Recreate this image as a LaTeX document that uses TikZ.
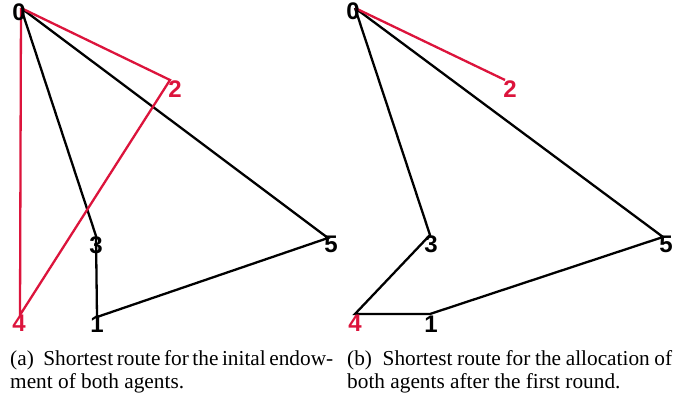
\documentclass[tikz,border=0pt]{standalone}
\usepackage{fontspec}
\setmainfont{Liberation Serif}
\newfontfamily\lblfont{Liberation Sans}
\definecolor{routered}{RGB}{220,20,60}
\begin{document}
\begin{tikzpicture}[x=1pt,y=-1pt,
  edgeline/.style={line width=2.3pt},
  blkline/.style={edgeline,draw=black},
  redline/.style={edgeline,draw=routered},
  lbl/.style={font=\lblfont\bfseries\fontsize{24}{24}\selectfont,inner sep=0pt,anchor=center},
  captext/.style={font=\fontsize{21.3}{25}\selectfont,inner sep=0pt,anchor=base west}]
\useasboundingbox (0,0) rectangle (694,403);
% left panel points
\coordinate (a0) at (21,8);
\coordinate (a2) at (170,80);
\coordinate (a3) at (96,236);
\coordinate (a5) at (328,238);
\coordinate (a4) at (20,315);
\coordinate (a1) at (97,317);
\draw[blkline] (a0) -- (a3) -- (a1) -- (a5) -- (a0);
\draw[redline] (a0) -- (a4) -- (a2) -- (a0);
\node[lbl] (la0) at (19,12) {0};
\node[lbl,text=routered] (la2) at (175,89) {2};
\node[lbl] (la3) at (96,245) {3};
\node[lbl] (la5) at (331,244) {5};
\node[lbl,text=routered] (la4) at (19,323) {4};
\node[lbl] (la1) at (97,324) {1};
% right panel points
\coordinate (b0) at (355,8);
\coordinate (b2) at (505,80);
\coordinate (b3) at (430,235);
\coordinate (b5) at (663,237);
\coordinate (b4) at (355,314);
\coordinate (b1) at (430,314);
\draw[blkline] (b0) -- (b3) -- (b4) -- (b1) -- (b5) -- (b0);
\draw[redline] (b0) -- (b2);
\node[lbl] (lb0) at (353,11) {0};
\node[lbl,text=routered] (lb2) at (510,89) {2};
\node[lbl] (lb3) at (431,244) {3};
\node[lbl] (lb5) at (666,244) {5};
\node[lbl,text=routered] (lb4) at (355,323) {4};
\node[lbl] (lb1) at (431,324) {1};
% captions
\node[captext] (ca1) at (10,366) {\makebox[323pt][s]{(a)\hspace{6pt} Shortest route for the inital endow-}};
\node[captext] (ca2) at (10,389) {ment of both agents.};
\node[captext] (cb1) at (347,366) {\makebox[325pt][s]{(b)\hspace{6pt} Shortest route for the allocation of}};
\node[captext] (cb2) at (347,389) {both agents after the first round.};
\end{tikzpicture}
\end{document}
